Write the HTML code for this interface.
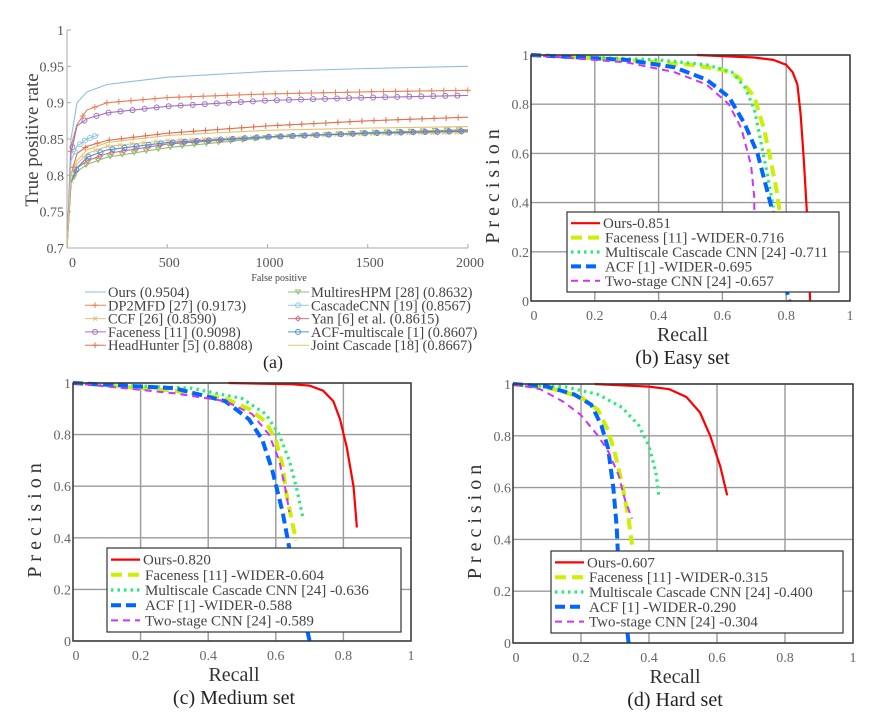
<!DOCTYPE html>
<html><head><meta charset="utf-8">
<style>
html,body{margin:0;padding:0;background:#fff;}
svg{display:block;font-family:"Liberation Serif",serif;}
</style></head>
<body>
<svg id="fig" width="881" height="721" viewBox="0 0 881 721"></svg>
<script>
// ---------- Panel (a) ROC data ----------
const rocFp = [0, 20, 50, 100, 200, 500, 1000, 1500, 2000];
const rocOurs = [0.70, 0.85, 0.90, 0.915, 0.925, 0.935, 0.943, 0.947, 0.950];
const rocDp2mfd = [0.70, 0.84, 0.87, 0.89, 0.90, 0.907, 0.912, 0.915, 0.917];
const rocFaceness = [0.70, 0.83, 0.868, 0.878, 0.886, 0.895, 0.903, 0.907, 0.910];
const rocHeadHunter = [0.70, 0.80, 0.83, 0.84, 0.848, 0.858, 0.868, 0.875, 0.880];
const rocCcf = [0.70, 0.79, 0.815, 0.83, 0.84, 0.848, 0.853, 0.857, 0.859];
const rocJoint = [0.70, 0.80, 0.82, 0.835, 0.845, 0.855, 0.862, 0.865, 0.867];
const rocMultires = [0.70, 0.79, 0.805, 0.815, 0.825, 0.838, 0.852, 0.859, 0.863];
const rocYan = [0.70, 0.79, 0.81, 0.82, 0.83, 0.843, 0.853, 0.858, 0.8615];
const rocAcfMs = [0.70, 0.79, 0.81, 0.825, 0.835, 0.845, 0.853, 0.858, 0.8607];
const rocCascadeFp = [0, 20, 50, 100, 160];
const rocCascade = [0.70, 0.82, 0.84, 0.85, 0.856];
const rocXTicks = [0, 500, 1000, 1500, 2000];
const rocYTicks = [0.7, 0.75, 0.8, 0.85, 0.9, 0.95, 1];
const rocYTickLabels = ["0.7", "0.75", "0.8", "0.85", "0.9", "0.95", "1"];

// ---------- PR data: Easy ----------
const easyOursR = [0.52, 0.70, 0.76, 0.80, 0.82, 0.835, 0.845, 0.855, 0.865, 0.875];
const easyOursP = [1.0, 0.99, 0.98, 0.96, 0.93, 0.88, 0.76, 0.58, 0.36, 0.0];
const easyFaceR = [0, 0.3, 0.5, 0.6, 0.65, 0.7, 0.73, 0.75, 0.77, 0.78];
const easyFaceP = [1, 0.98, 0.96, 0.94, 0.91, 0.83, 0.70, 0.58, 0.45, 0.36];
const easyMultiR = [0, 0.4, 0.55, 0.63, 0.67, 0.70, 0.72, 0.74, 0.76];
const easyMultiP = [1, 0.98, 0.96, 0.93, 0.87, 0.78, 0.65, 0.52, 0.38];
const easyAcfR = [0, 0.3, 0.45, 0.55, 0.62, 0.67, 0.71, 0.74, 0.76, 0.80, 0.81];
const easyAcfP = [1, 0.98, 0.95, 0.90, 0.83, 0.72, 0.60, 0.45, 0.35, 0.05, 0];
const easyTwoR = [0, 0.3, 0.45, 0.55, 0.62, 0.66, 0.69, 0.70, 0.70];
const easyTwoP = [1, 0.97, 0.93, 0.88, 0.80, 0.70, 0.55, 0.42, 0.36];

// ---------- PR data: Medium ----------
const medOursR = [0.46, 0.65, 0.70, 0.74, 0.77, 0.79, 0.81, 0.83, 0.84];
const medOursP = [1, 0.995, 0.99, 0.97, 0.93, 0.86, 0.75, 0.60, 0.44];
const medFaceR = [0, 0.3, 0.45, 0.52, 0.57, 0.60, 0.62, 0.63, 0.65, 0.66];
const medFaceP = [1, 0.97, 0.94, 0.90, 0.85, 0.78, 0.68, 0.58, 0.45, 0.39];
const medMultiR = [0, 0.35, 0.5, 0.57, 0.61, 0.64, 0.66, 0.68];
const medMultiP = [1, 0.98, 0.94, 0.88, 0.80, 0.70, 0.60, 0.48];
const medAcfR = [0, 0.3, 0.45, 0.52, 0.56, 0.59, 0.62, 0.64, 0.70];
const medAcfP = [1, 0.98, 0.93, 0.86, 0.78, 0.66, 0.50, 0.36, 0];
const medTwoR = [0, 0.3, 0.45, 0.53, 0.58, 0.61, 0.63, 0.64];
const medTwoP = [1, 0.96, 0.93, 0.88, 0.80, 0.70, 0.58, 0.50];

// ---------- PR data: Hard ----------
const hardOursR = [0.24, 0.40, 0.46, 0.51, 0.55, 0.58, 0.61, 0.63];
const hardOursP = [1, 0.99, 0.98, 0.95, 0.89, 0.80, 0.68, 0.57];
const hardFaceR = [0, 0.12, 0.2, 0.25, 0.28, 0.30, 0.32, 0.34, 0.35];
const hardFaceP = [1, 0.98, 0.95, 0.90, 0.82, 0.73, 0.62, 0.48, 0.38];
const hardMultiR = [0, 0.15, 0.25, 0.32, 0.37, 0.40, 0.42, 0.43];
const hardMultiP = [1, 0.99, 0.96, 0.91, 0.84, 0.76, 0.66, 0.56];
const hardAcfR = [0, 0.1, 0.18, 0.23, 0.26, 0.28, 0.295, 0.305, 0.31, 0.33, 0.34];
const hardAcfP = [1, 0.99, 0.96, 0.92, 0.84, 0.75, 0.60, 0.45, 0.30, 0.12, 0];
const hardTwoR = [0, 0.08, 0.15, 0.2, 0.25, 0.28, 0.31, 0.33, 0.35];
const hardTwoP = [1, 0.98, 0.93, 0.88, 0.80, 0.74, 0.65, 0.55, 0.48];

const prTicks = [0, 0.2, 0.4, 0.6, 0.8, 1];
const prTickLabels = ["0", "0.2", "0.4", "0.6", "0.8", "1"];
const easyLegend = ["Ours-0.851", "Faceness [11] -WIDER-0.716", "Multiscale Cascade CNN [24] -0.711", "ACF [1] -WIDER-0.695", "Two-stage CNN [24] -0.657"];
const medLegend = ["Ours-0.820", "Faceness [11] -WIDER-0.604", "Multiscale Cascade CNN [24] -0.636", "ACF [1] -WIDER-0.588", "Two-stage CNN [24] -0.589"];
const hardLegend = ["Ours-0.607", "Faceness [11] -WIDER-0.315", "Multiscale Cascade CNN [24] -0.400", "ACF [1] -WIDER-0.290", "Two-stage CNN [24] -0.304"];

const NS = "http://www.w3.org/2000/svg";
const svg = document.getElementById("fig");
function mk(tag, attrs, parent, text) {
  const e = document.createElementNS(NS, tag);
  for (const k in attrs) e.setAttribute(k, attrs[k]);
  if (text !== undefined) e.textContent = text;
  (parent || svg).appendChild(e);
  return e;
}

// ================= Panel (a) =================
const A = {l: 67, r: 468, t: 30, b: 248};
const ax = v => A.l + v / 2000 * (A.r - A.l);
const ay = v => A.b - (v - 0.7) / 0.3 * (A.b - A.t);
const ga = mk("g", {});


mk("line", {x1: A.l, y1: A.t, x2: A.l, y2: A.b, stroke: "#aaa", "stroke-width": 1}, ga);
mk("line", {x1: A.l, y1: A.b, x2: A.r, y2: A.b, stroke: "#aaa", "stroke-width": 1}, ga);
rocYTicks.forEach((v, i) => {
  mk("line", {x1: A.l, y1: ay(v), x2: A.l + 4, y2: ay(v), stroke: "#aaa"}, ga);
  const t = mk("text", {x: A.l - 3, y: ay(v) + 5, "text-anchor": "end", "font-size": 14, fill: "#555"}, ga, rocYTickLabels[i]);
  
  
});
rocXTicks.forEach(v => {
  mk("line", {x1: ax(v), y1: A.b, x2: ax(v), y2: A.b - 4, stroke: "#aaa"}, ga);
  const t = mk("text", {x: ax(v) + 2, y: A.b + 19, "text-anchor": v === 0 ? "start" : "middle", "font-size": 14, fill: "#555"}, ga, String(v));
  
  
});
const yt = mk("text", {x: 0, y: 0, transform: "translate(38,140) rotate(-90)", "text-anchor": "middle", "font-size": 19, fill: "#444"}, ga, "True positive rate");


const xt = mk("text", {x: 279, y: 281, "text-anchor": "middle", "font-size": 10, fill: "#444"}, ga, "False positive");



const rocSeries = [
  {name: "Ours (0.9504)", fp: rocFp, v: rocOurs, c: "#8fbde0", m: "none"},
  {name: "DP2MFD [27] (0.9173)", fp: rocFp, v: rocDp2mfd, c: "#e8805a", m: "plus"},
  {name: "CCF [26] (0.8590)", fp: rocFp, v: rocCcf, c: "#e6c080", m: "x"},
  {name: "Faceness [11] (0.9098)", fp: rocFp, v: rocFaceness, c: "#a070c0", m: "circle"},
  {name: "HeadHunter [5] (0.8808)", fp: rocFp, v: rocHeadHunter, c: "#e07050", m: "star"},
  {name: "MultiresHPM [28] (0.8632)", fp: rocFp, v: rocMultires, c: "#90c070", m: "tri"},
  {name: "CascadeCNN [19] (0.8567)", fp: rocCascadeFp, v: rocCascade, c: "#90c8e8", m: "circle"},
  {name: "Yan [6] et al. (0.8615)", fp: rocFp, v: rocYan, c: "#d07080", m: "diamond"},
  {name: "ACF-multiscale [1] (0.8607)", fp: rocFp, v: rocAcfMs, c: "#5090d0", m: "circle"},
  {name: "Joint Cascade [18] (0.8667)", fp: rocFp, v: rocJoint, c: "#e8c070", m: "none"}
];
function marker(g, m, x, y, c) {
  if (m === "circle") mk("circle", {cx: x, cy: y, r: 2.5, fill: "none", stroke: c, "stroke-width": 1}, g);
  else if (m === "plus" || m === "star") { mk("path", {d: `M${x-3},${y}H${x+3}M${x},${y-3}V${y+3}`, stroke: c, "stroke-width": 1}, g); }
  else if (m === "x") mk("path", {d: `M${x-2},${y-2}L${x+2},${y+2}M${x-2},${y+2}L${x+2},${y-2}`, stroke: c}, g);
  else if (m === "tri") mk("path", {d: `M${x-2.5},${y-2}L${x+2.5},${y-2}L${x},${y+2}Z`, fill: "none", stroke: c}, g);
  else if (m === "diamond") mk("path", {d: `M${x},${y-2.5}L${x+2.5},${y}L${x},${y+2.5}L${x-2.5},${y}Z`, fill: "none", stroke: c}, g);
}
function interp(fp, v, x) {
  for (let i = 1; i < fp.length; i++) if (x <= fp[i]) { const t = (x - fp[i-1]) / (fp[i] - fp[i-1]); return v[i-1] + t * (v[i] - v[i-1]); }
  return v[v.length - 1];
}
rocSeries.forEach((s, k) => {
  const g = mk("g", {}, ga);
  
  
  const d = s.fp.map((f, i) => (i ? "L" : "M") + ax(f).toFixed(1) + "," + ay(s.v[i]).toFixed(1)).join("");
  mk("path", {d: d, fill: "none", stroke: s.c, "stroke-width": 1.1}, g);
  if (s.m !== "none") {
    const maxF = s.fp[s.fp.length - 1];
    for (let f = 15 + k * 4; f <= maxF; f += (maxF < 500 ? 25 : 60)) marker(g, s.m, ax(f), ay(interp(s.fp, s.v, f)), s.c);
  }
  const col = k < 5 ? 0 : 1, row = k % 5;
  const lx = col ? 288 : 85, ly = 292 + row * 13.3;
  const le = mk("g", {}, ga);
  
  
  mk("line", {x1: lx, y1: ly, x2: lx + 21, y2: ly, stroke: s.c, "stroke-width": 1}, le);
  if (s.m !== "none") marker(le, s.m, lx + 10, ly, s.c);
  mk("text", {x: lx + 23, y: ly + 5, "font-size": 14.5, fill: "#444"}, le, s.name);
});
const capA = mk("text", {x: 273, y: 368, "text-anchor": "middle", "font-size": 18, fill: "#222"}, ga, "(a)");



// ================= PR panels =================
const styles = [
  {c: "#ff0000", w: 2.2, dash: ""},
  {c: "#ccf000", w: 4, dash: "11,6"},
  {c: "#22ee77", w: 3.2, dash: "2.5,4"},
  {c: "#0066ff", w: 4, dash: "10,5"},
  {c: "#cc33ff", w: 2, dash: "7,5"}
];
function prPanel(name, box, series, legend, lbox, caption) {
  const g = mk("g", {});
  
  
  const sx = v => box.l + v * (box.r - box.l);
  const sy = v => box.b - v * (box.b - box.t);
  prTicks.forEach((v, i) => {
    mk("line", {x1: sx(v), y1: box.t, x2: sx(v), y2: box.b, stroke: "#999", "stroke-width": 1.4}, g);
    mk("line", {x1: box.l, y1: sy(v), x2: box.r, y2: sy(v), stroke: "#999", "stroke-width": 1.4}, g);
    const tx = mk("text", {x: sx(v) + (i === 0 ? 3 : 0), y: box.b + 19, "text-anchor": "middle", "font-size": 14, fill: "#666"}, g, prTickLabels[i]);
    
    
    const ty = mk("text", {x: box.l - 2, y: sy(v) + 5, "text-anchor": "end", "font-size": 14, fill: "#666"}, g, prTickLabels[i]);
    
    
  });
  series.forEach((s, k) => {
    const d = s[0].map((r, i) => (i ? "L" : "M") + sx(r).toFixed(1) + "," + sy(s[1][i]).toFixed(1)).join("");
    const p = mk("path", {d: d, fill: "none", stroke: styles[k].c, "stroke-width": styles[k].w, "stroke-dasharray": styles[k].dash, "stroke-linejoin": "round"}, g);
    
    
  });
  mk("rect", {x: box.l, y: box.t, width: box.r - box.l, height: box.b - box.t, fill: "none", stroke: "#333", "stroke-width": 1.4}, g);
  const lg = mk("g", {}, g);
  
  
  mk("rect", {x: lbox.l, y: lbox.t, width: lbox.r - lbox.l, height: lbox.b - lbox.t, fill: "#fff", stroke: "#333", "stroke-width": 1.2}, lg);
  const rh = (lbox.b - lbox.t - 8) / 5;
  legend.forEach((t, k) => {
    const y = lbox.t + 4 + rh * (k + 0.5);
    mk("line", {x1: lbox.l + 4, y1: y, x2: lbox.l + 33, y2: y, stroke: styles[k].c, "stroke-width": styles[k].w, "stroke-dasharray": styles[k].dash}, lg);
    const te = mk("text", {x: k === 0 ? lbox.l + 36 : lbox.l + 38, y: y + 5, "font-size": 15, fill: "#444"}, lg, t);
    
    
  });
  const cx = (box.l + box.r) / 2;
  const xl = mk("text", {x: cx - 8, y: box.b + 40, "text-anchor": "middle", "font-size": 20, fill: "#333"}, g, "Recall");
  
  
  const yl = mk("text", {x: 0, y: 0, transform: `translate(${box.l - 32},${(box.t + box.b) / 2 + 6}) rotate(-90)`, "text-anchor": "middle", "font-size": 20, "letter-spacing": 5, fill: "#333"}, g, "Precision");
  
  
  const cp = mk("text", {x: cx - 8, y: box.b + 63, "text-anchor": "middle", "font-size": 20, fill: "#222"}, g, caption);
  
  
}
prPanel("easy-set-panel", {l: 531, r: 850, t: 55, b: 301},
  [[easyOursR, easyOursP], [easyFaceR, easyFaceP], [easyMultiR, easyMultiP], [easyAcfR, easyAcfP], [easyTwoR, easyTwoP]],
  easyLegend, {l: 567, r: 839, t: 212, b: 292}, "(b) Easy set");
prPanel("medium-set-panel", {l: 73, r: 411, t: 383, b: 641},
  [[medOursR, medOursP], [medFaceR, medFaceP], [medMultiR, medMultiP], [medAcfR, medAcfP], [medTwoR, medTwoP]],
  medLegend, {l: 107, r: 401, t: 548, b: 632}, "(c) Medium set");
prPanel("hard-set-panel", {l: 513, r: 853, t: 384, b: 643},
  [[hardOursR, hardOursP], [hardFaceR, hardFaceP], [hardMultiR, hardMultiP], [hardAcfR, hardAcfP], [hardTwoR, hardTwoP]],
  hardLegend, {l: 551, r: 843, t: 551, b: 633}, "(d) Hard set");
</script>
</body></html>
